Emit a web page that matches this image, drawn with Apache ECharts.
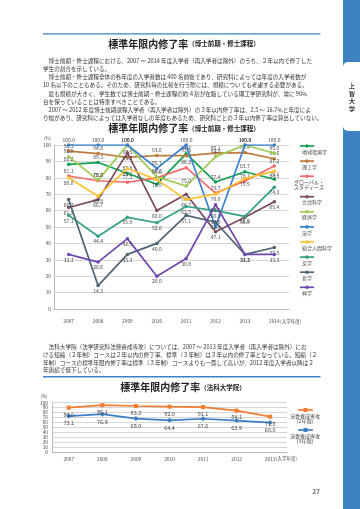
<!DOCTYPE html>
<html><head><meta charset="utf-8">
<script src="https://cdn.jsdelivr.net/npm/echarts@6/dist/echarts.min.js"></script>
<style>html,body{margin:0;padding:0;background:#fff}#c{width:360px;height:509px}</style>
</head><body><div id="c"></div>
<script>
// ---- data: chart 1 ----
const years1 = ['2007','2008','2009','2010','2011','2012','2013','2014'];
const names1 = ['地球環境学','理工学','グローバル・スタディーズ','言語科学','経済学','法学','総合人間科学','文学','哲学','神学'];
const chikyu    = [88.2, 89.3, 82.8, 76.1, 94.7, 77.4, 83.7, 79.1];
const riko      = [96.3, 94.8, 92.5, 93.6, 93.5, 95.1, 95.4, 91.6];
const globalSt  = [81.1, 78.2, 77.3, 80.0, 86.2, 70.7, 78.1, 87.2];
const gengo     = [61.9, 66.7, 95.2, 60.0, 70.0, 47.1, 55.9, 65.4];
const keizai    = [92.9, 78.6, 100.0, 80.6, 75.0, 92.9, 100.0, 95.0];
const hogaku    = [100.0, 100.0, 100.0, 85.7, 100.0, 50.0, 100.0, 100.0];
const sogo      = [80.0, 68.8, 85.7, 78.9, 66.7, 70.0, 79.5, 84.1];
const bungaku   = [57.1, 44.4, 55.9, 52.6, 62.5, 60.0, 56.5, 74.3];
const tetsugaku = [66.7, 14.3, 33.3, 40.0, 57.1, 52.9, 33.3, 37.5];
const shingaku  = [33.3, 28.6, 42.9, 20.0, 30.8, 63.6, 33.3, 33.3];
const yTicks = [0,10,20,30,40,50,60,70,80,90,100];
// ---- data: chart 2 ----
const years2 = ['2007','2008','2009','2010','2011','2012','2013'];
const names2 = ['法曹養成専攻\n（2年制）','法曹養成専攻\n（3年制）'];
const twoYear   = [90.0, 95.1, 93.3, 92.0, 91.1, 84.1, 71.8];
const threeYear = [73.1, 76.8, 68.0, 64.4, 67.6, 63.9, 60.0];
// ---- page text ----
const para1 = [
 '　博士前期・修士課程における、2007 ～ 2014 年度入学者（再入学者は除外）のうち、２年以内で修了した',
 '学生の割合を示している。',
 '　博士前期・修士課程全体の各年度の入学者数は 400 名前後であり、研究科によっては年度の入学者数が',
 '10 名以下のこともある。そのため、研究科毎の比較を行う際には、規模についても考慮する必要がある。',
 '　最も規模が大きく、学生数では博士前期・修士課程の約４割が在籍している理工学研究科が、常に 90％',
 '台を保っていることは特筆すべきことである。',
 '　2007 ～ 2012 年度博士後期課程入学者（再入学者は除外）の３年以内修了率は、2.5 ～ 16.7％と年度によ',
 'り幅があり、研究科によっては入学者なしの年度もあるため、研究科ごとの３年以内修了率は算出していない。'
];
const para2 = [
 '　法科大学院（法学研究科法曹養成専攻）については、2007 ～ 2013 年度入学者（再入学者は除外）にお',
 'ける短縮（２年制）コースは２年以内の修了率、標準（３年制）は３年以内の修了率となっている。短縮（２',
 '年制）コースの標準年限内修了率は標準（３年制）コースよりも一貫して高いが、2012 年度入学者以降は２',
 '年連続で低下している。'
];

const FONT = '"Noto Sans CJK JP", "Noto Sans", sans-serif';
const values1 = [chikyu, riko, globalSt, gengo, keizai, hogaku, sogo, bungaku, tetsugaku, shingaku];
const colors1 = ['#10a050','#c07a3c','#f56a66','#7b4a5e','#9dcb55','#3a80cc','#ffc232','#35a085','#4e6474','#7047b0'];
const labelPos1 = ['top','top','top','bottom','top','top','bottom','bottom','bottom','bottom'];
const colors2 = ['#f07d32','#3a7ec6'];

const chart = echarts.init(document.getElementById('c'), null, {renderer:'canvas'});

const series = [];
values1.forEach((v, i) => {
  series.push({
    name: names1[i], type: 'line', xAxisIndex: 0, yAxisIndex: 0, data: v,
    symbol: 'circle', symbolSize: 3.5,
    lineStyle: {width: 1.7, color: colors1[i]}, itemStyle: {color: colors1[i]},
    label: {show: true, position: labelPos1[i], distance: 1, fontSize: 5, color: '#444', fontFamily: FONT,
      formatter: p => p.value.toFixed(1)},
    z: 3 + i, animation: false
  });
});
[twoYear, threeYear].forEach((v, i) => {
  series.push({
    name: names2[i], type: 'line', xAxisIndex: 1, yAxisIndex: 1, data: v,
    symbol: i === 0 ? 'rect' : 'diamond', symbolSize: i === 0 ? 4 : 5,
    lineStyle: {width: 1.7, color: colors2[i]}, itemStyle: {color: colors2[i]},
    label: {show: true, position: 'bottom', distance: 2, fontSize: 5.5, color: '#444', fontFamily: FONT,
      formatter: p => p.value.toFixed(1)},
    animation: false
  });
});

const graphic = [];
// side tab
graphic.push({type:'rect', shape:{x:343, y:0, width:17, height:509}, style:{fill:'#3e81c1'}});
graphic.push({type:'rect', shape:{x:343, y:62, width:17, height:69, r:[5,0,0,5]}, style:{fill:'#fff'}});
graphic.push({type:'text', style:{text:'上\n智\n大\n学', x:352, y:97, align:'center', verticalAlign:'middle',
  fontSize:6, lineHeight:7.5, fontWeight:'bold', fontFamily:FONT, fill:'#333'}});
// blue rules
graphic.push({type:'rect', shape:{x:43, y:33.2, width:277.5, height:1.4}, style:{fill:'#3e81c1'}});
graphic.push({type:'rect', shape:{x:43, y:376, width:277.5, height:1.4}, style:{fill:'#3e81c1'}});
// titles
function title(y, sub, cx) {
  graphic.push({type:'text', style:{text:'{a|標準年限内修了率}{b|' + sub + '}', x:cx, y:y, align:'center', verticalAlign:'middle',
    fill:'#222', rich:{a:{fontSize:10, fontWeight:'bold', fontFamily:FONT, fill:'#222'},
                       b:{fontSize:6.5, fontWeight:'bold', fontFamily:FONT, fill:'#222'}}}});
}
title(44, '（博士前期・修士課程）', 184);
title(128.5, '（博士前期・修士課程）', 184);
title(387.5, '（法科大学院）', 183);
// paragraphs
para1.forEach((t, i) => graphic.push({type:'text', style:{text:t, x:43, y:60.7 + i*8.2, verticalAlign:'middle',
  fontSize:5.6, fontFamily:FONT, fill:'#333'}}));
para2.forEach((t, i) => graphic.push({type:'text', style:{text:t, x:43, y:347.3 + i*7.6, verticalAlign:'middle',
  fontSize:5.6, fontFamily:FONT, fill:'#333'}}));
// page number
graphic.push({type:'text', style:{text:'27', x:320, y:491, align:'right', verticalAlign:'middle', fontSize:7, fontFamily:FONT, fill:'#444'}});
// legend chart 1
let ly = 146;
names1.forEach((n, i) => {
  graphic.push({type:'line', shape:{x1:300, y1:ly, x2:314, y2:ly}, style:{stroke:colors1[i], lineWidth:1.7}});
  graphic.push({type:'circle', shape:{cx:307, cy:ly, r:1.8}, style:{fill:colors1[i]}});
  const multi = n.length > 8;
  const txt = multi ? 'グローバル・\nスタディーズ' : n;
  graphic.push({type:'text', style:{text:txt, x: multi ? 294 : 302, y: ly + 3, verticalAlign:'top',
    fontSize:5, lineHeight:5.5, fontFamily:FONT, fill:'#444'}});
  ly += multi ? 20.5 : 15.1;
});
// legend chart 2
[410, 430].forEach((yy, i) => {
  graphic.push({type:'line', shape:{x1:298, y1:yy, x2:313, y2:yy}, style:{stroke:colors2[i], lineWidth:1.7}});
  graphic.push({type:'rect', shape:{x:303.5, y:yy-2, width:4, height:4}, style:{fill:colors2[i]}});
  graphic.push({type:'text', style:{text:names2[i], x:305, y:yy + 3, align:'center', verticalAlign:'top',
    fontSize:5, lineHeight:5.5, fontFamily:FONT, fill:'#444'}});
});
// axis names
graphic.push({type:'text', style:{text:'(%)', x:47.5, y:138, align:'center', verticalAlign:'middle', fontSize:4.5, fontFamily:FONT, fill:'#555'}});
graphic.push({type:'text', style:{text:'(%)', x:44, y:396.5, align:'center', verticalAlign:'middle', fontSize:4.5, fontFamily:FONT, fill:'#555'}});

function catAxis(idx, data, lastIdx, margin) {
  return {type:'category', gridIndex: idx, data: data, boundaryGap: true,
    axisLine:{show:true, lineStyle:{color:'#bbb', width:1}}, axisTick:{show:false},
    axisLabel:{fontSize:4.8, color:'#444', fontFamily:FONT, margin: margin, interval: 0,
      formatter: (v, i) => i === lastIdx ? '{p|}' + v + '{b|(入学年度)}' : v,
      rich:{p:{width:22, fontSize:4.8}, b:{width:22, fontSize:4.5, fontFamily:FONT, color:'#444'}}}};
}
function valAxis(idx, margin) {
  return {type:'value', gridIndex: idx, min:0, max:100, interval:10,
    axisLine:{show:true, lineStyle:{color:'#bbb', width:1}}, axisTick:{show:false},
    splitLine:{show:true, lineStyle:{color:'#d6d6d6', width:1}},
    axisLabel:{fontSize:4.8, color:'#444', fontFamily:FONT, margin: margin,
      customValues: yTicks}};
}

chart.setOption({
  animation: false,
  backgroundColor: '#fff',
  textStyle: {fontFamily: FONT},
  grid: [
    {left:54, top:145, width:235, height:164, containLabel:false},
    {left:52, top:402.7, width:235, height:49.6, containLabel:false}
  ],
  xAxis: [catAxis(0, years1, years1.length - 1, 10), catAxis(1, years2, years2.length - 1, 4)],
  yAxis: [valAxis(0, 3), valAxis(1, 4)],
  series: series,
  graphic: graphic
});
</script></body></html>
